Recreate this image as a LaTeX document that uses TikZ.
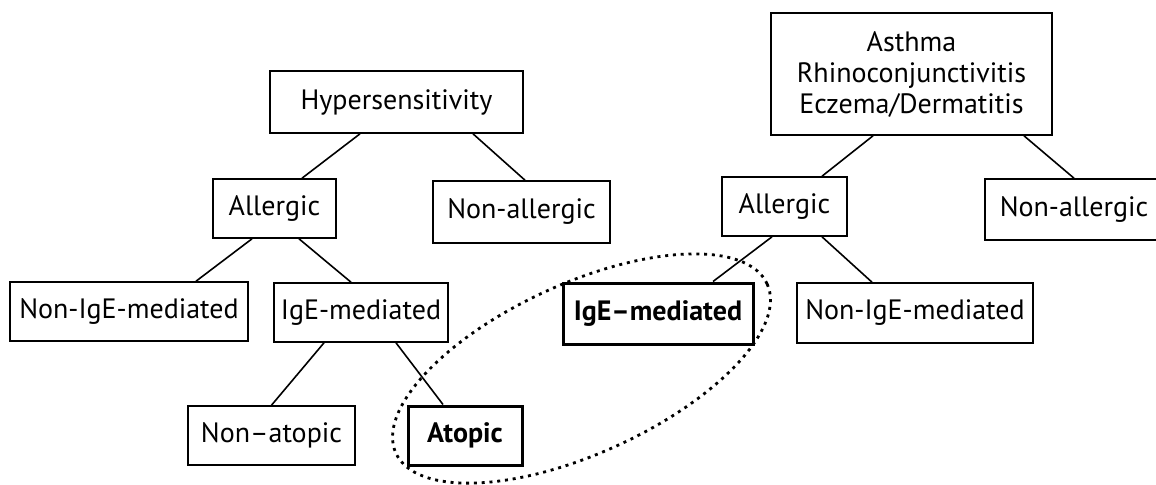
\documentclass[tikz,border=0pt]{standalone}
\usepackage{fontspec}
\setmainfont{PT Sans}
\tikzset{%
  % Specifications for style of nodes:
     base/.style = {rectangle, draw=black, line width=0.8pt, inner sep=0pt,
                    minimum height=29.5pt, text centered, align=center,
                    font=\fontsize{14}{15.5}\selectfont},
   chosen/.style = {base, line width=1.5pt,
                    font=\fontsize{14}{15.5}\selectfont\bfseries},
  linkage/.style = {line width=0.8pt},
}

\begin{document}
\begin{tikzpicture}[x=0.5pt, y=-0.5pt]
  \useasboundingbox (0,0) rectangle (1156,484);
  % Specification of nodes (position, etc.)
  % left tree
  \node (hyper)        [base, minimum width=126.5pt, minimum height=31pt]
                                             at (396.5,102)   {Hypersensitivity};
  \node (allergicL)    [base, minimum width=61.5pt]  at (274.5,208.5) {Allergic};
  \node (nonAllergicL) [base, minimum width=88.5pt, minimum height=31pt]
                                             at (521.5,212)   {Non-allergic};
  \node (nonIgeL)      [base, minimum width=119pt]   at (129,311.5)   {Non-IgE-mediated};
  \node (igeL)         [base, minimum width=87pt]    at (361,312.5)   {IgE-mediated};
  \node (nonAtopic)    [base, minimum width=83.5pt]  at (271.5,435.5) {Non--atopic};
  \node (atopic)       [chosen, minimum width=57pt]  at (465,435.5)   {Atopic};
  % right tree
  \node (disease)      [base, minimum width=140.5pt, minimum height=61pt]
                                             at (911.5,74)
                       {Asthma\\Rhinoconjunctivitis\\Eczema/Dermatitis};
  \node (allergicR)    [base, minimum width=62.5pt]  at (784.5,206.5) {Allergic};
  \node (nonAllergicR) [base, minimum width=89pt, minimum height=30.5pt]
                                             at (1074,209.5)  {Non-allergic};
  \node (igeR)         [chosen, minimum width=95pt, minimum height=30.5pt]
                                             at (658,313.5)   {IgE--mediated};
  \node (nonIgeR)      [base, minimum width=118pt, minimum height=30pt]
                                             at (915,313)     {Non-IgE-mediated};
  % Specification of lines between nodes specified above
  \draw[linkage] ([xshift=-18.25pt]hyper.south) -- ([xshift=13.75pt]allergicL.north);
  \draw[linkage] ([xshift=38.25pt]hyper.south) -- ([xshift=1.75pt]nonAllergicL.north);
  \draw[linkage] ([xshift=-11.25pt]allergicL.south) -- ([xshift=33.5pt]nonIgeL.north);
  \draw[linkage] ([xshift=12.25pt]allergicL.south) -- ([xshift=-5pt]igeL.north);
  \draw[linkage] ([xshift=-18.5pt]igeL.south) -- (nonAtopic.north);
  \draw[linkage] ([xshift=17.5pt]igeL.south) -- ([xshift=-11pt]atopic.north);
  \draw[linkage] ([xshift=-19.25pt]disease.south) -- ([xshift=18.75pt]allergicR.north);
  \draw[linkage] ([xshift=56.25pt]disease.south) -- (nonAllergicR.north);
  \draw[linkage] ([xshift=-6.25pt]allergicR.south) -- ([xshift=27.5pt]igeR.north);
  \draw[linkage] ([xshift=18.75pt]allergicR.south) -- ([xshift=-21.5pt]nonIgeR.north);
  % dotted ring round the two bold nodes
  \draw[line width=1.4pt, dash pattern=on 1.5pt off 2.4pt,
        rotate around={24.5:(581.5,368.5)}]
        (581.5,368.5) ellipse [x radius=102pt, y radius=42.5pt];
\end{tikzpicture}
\end{document}
